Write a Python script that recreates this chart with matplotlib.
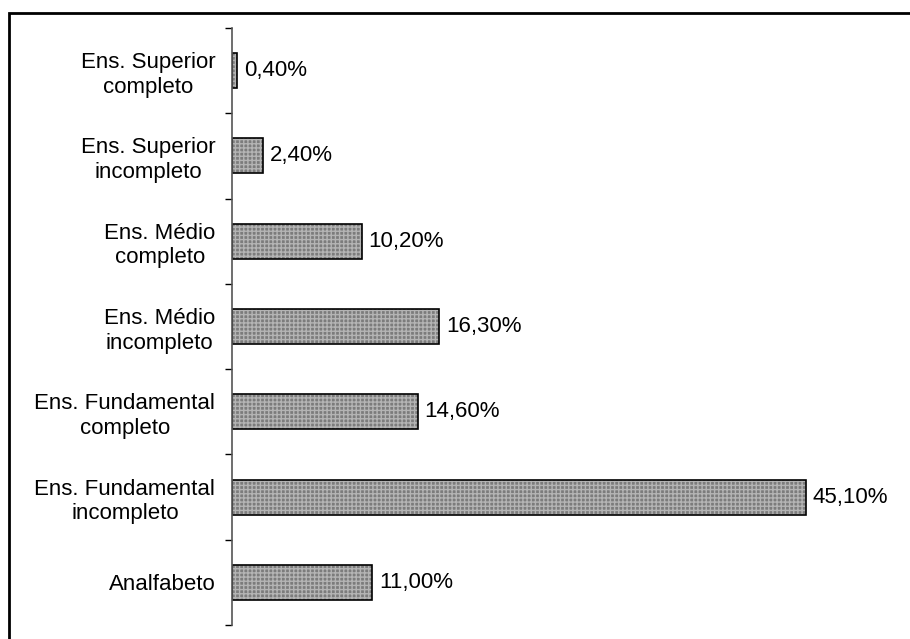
import matplotlib.pyplot as plt
from matplotlib.patches import Rectangle

plt.rcParams["font.family"] = "Liberation Sans"

categories = ['Analfabeto', 'Ens. Fundamental\nincompleto', 'Ens. Fundamental\ncompleto',
              'Ens. Médio\nincompleto', 'Ens. Médio\ncompleto', 'Ens. Superior\nincompleto',
              'Ens. Superior\ncompleto']
values = [11.0, 45.1, 14.6, 16.3, 10.2, 2.4, 0.4]
labels = ['11,00%', '45,10%', '14,60%', '16,30%', '10,20%', '2,40%', '0,40%']

W, H = 910, 639
fig = plt.figure(figsize=(W / 100, H / 100), dpi=100)
ax = fig.add_axes([232 / W, 1 - 625 / H, (868 - 232) / W, (625 - 28) / H])

pos = list(range(len(categories)))
# gray fill with a fine light hatch, then outline
ax.barh(pos, values, height=0.41, color='#7c7c7c', hatch='++++', edgecolor='#b4b4b4', linewidth=0)
ax.barh(pos, values, height=0.41, fill=False, edgecolor='black', linewidth=1.2)

for p, v, lab in zip(pos, values, labels):
    ax.text(v + 0.55, p, lab, va='center', ha='left', fontsize=16)

ax.set_xlim(0, 50)
ax.set_ylim(-0.5, len(categories) - 0.5)

ax.set_yticks([i - 0.5 for i in range(len(categories) + 1)])
ax.set_yticklabels([])
ax.tick_params(axis='y', which='major', length=5, width=1, direction='out', color='black')
ax.set_yticks(pos, minor=True)
ax.set_yticklabels(categories, minor=True, fontsize=16, multialignment='center', linespacing=1.22)
ax.tick_params(axis='y', which='minor', length=0, pad=12)
ax.set_xticks([])

for s in ['top', 'right', 'bottom']:
    ax.spines[s].set_visible(False)
ax.spines['left'].set_color('#555555')
ax.spines['left'].set_linewidth(1.2)

# outer chart frame (only top and left show)
fig.patches.append(Rectangle((9 / W, -0.1), 1.2, 1.1 - 13 / H, transform=fig.transFigure,
                             fill=False, edgecolor='black', linewidth=2))

fig.savefig('out.png', dpi=100)
